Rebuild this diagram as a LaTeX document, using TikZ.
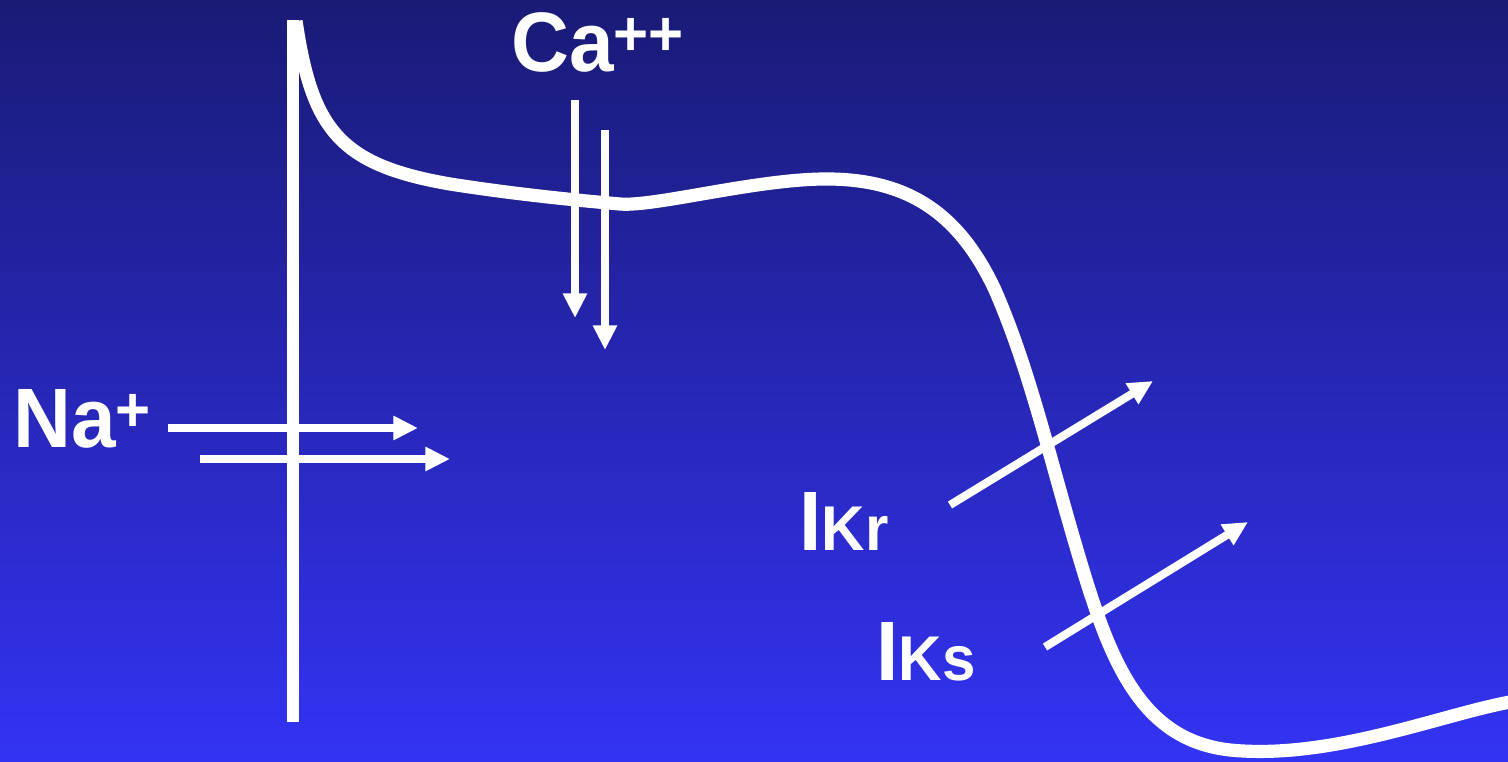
\documentclass[tikz,border=0pt]{standalone}
\usepackage{fontspec}
\newfontfamily\labelfont[FakeStretch=0.95]{Liberation Sans}
\usetikzlibrary{arrows.meta}
\definecolor{bgtop}{RGB}{26,26,118}
\definecolor{bgmid}{RGB}{40,40,198}
\definecolor{bgbottom}{RGB}{51,51,244}
\newcommand{\ionsup}[1]{\raisebox{9pt}{\fontsize{36}{36}\selectfont #1}}
\newcommand{\chansub}[1]{{\fontsize{36}{36}\selectfont #1}}

\begin{document}
\begin{tikzpicture}[
    x=0.02cm, y=-0.02cm,
    ion/.style={text=white, inner sep=0pt, anchor=base west, font=\labelfont\bfseries\fontsize{48}{48}\selectfont},
    membrane/.style={draw=white, line width=6.5pt},
    potential/.style={draw=white, line width=7.5pt},
    flux/.style={draw=white, line width=4.6pt, -{Triangle[length=14pt, width=13pt]}}
]

% Background
\shade[top color=bgtop, middle color=bgmid, bottom color=bgbottom] (0,0) rectangle (1508,761);
\useasboundingbox (0,0) rectangle (1508,761);

% Upstroke line
\coordinate (upTop) at (293,20);
\coordinate (upBot) at (293,722);
\draw[membrane] (upTop) -- (upBot);

% Action potential
\draw[potential] (296,21) .. controls (312,130) and (340,165) .. (450,184)
    .. controls (520,195) and (585,201) .. (620,204)
    .. controls (655,207) and (760,178) .. (830,179)
    .. controls (910,180) and (960,215) .. (995,290)
    .. controls (1030,370) and (1050,460) .. (1080,560)
    .. controls (1110,660) and (1140,740) .. (1230,750)
    .. controls (1330,760) and (1440,715) .. (1510,702);

% Labels
\node[ion] (na) at (13,447) {Na\ionsup{+}};
\node[ion] (ca) at (511,71) {Ca\ionsup{++}};
\node[ion] (ikr) at (799,550) {I\chansub{Kr}};
\node[ion] (iks) at (876,680) {I\chansub{Ks}};

% Sodium inflow
\coordinate (naA1) at (168,428);
\coordinate (naA2) at (418,428);
\coordinate (naB1) at (200,459);
\coordinate (naB2) at (450,459);
\draw[flux] (naA1) -- (naA2);
\draw[flux] (naB1) -- (naB2);

% Calcium inflow
\coordinate (caA1) at (575,100);
\coordinate (caA2) at (575,318);
\coordinate (caB1) at (605,130);
\coordinate (caB2) at (605,350);
\draw[flux] (caA1) -- (caA2);
\draw[flux] (caB1) -- (caB2);

% Potassium outflow
\coordinate (krA) at (950,505);
\coordinate (krB) at (1153,381);
\coordinate (ksA) at (1045,647);
\coordinate (ksB) at (1248,522);
\draw[flux] (krA) -- (krB);
\draw[flux] (ksA) -- (ksB);

\end{tikzpicture}
\end{document}
